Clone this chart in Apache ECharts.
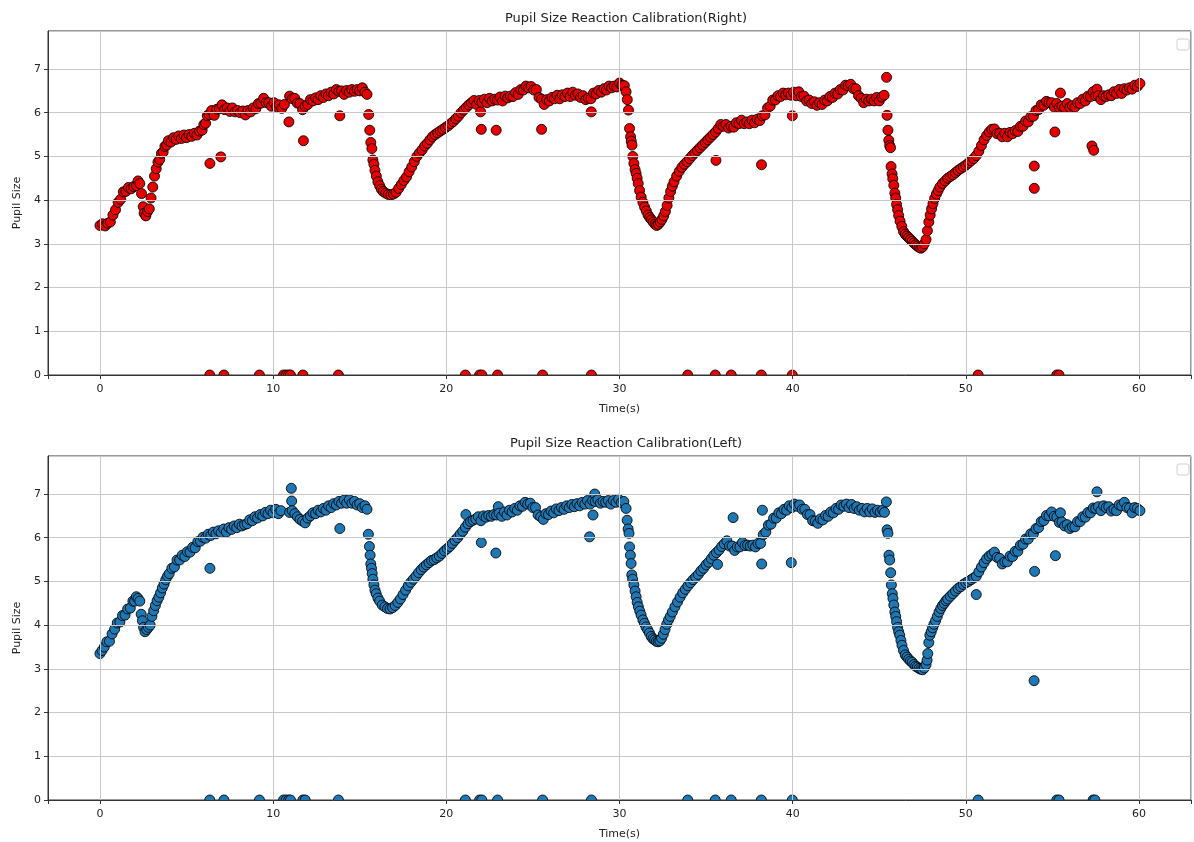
<!DOCTYPE html>
<html>
<head>
<meta charset="utf-8">
<title>Pupil Size Reaction Calibration</title>
<script src="https://cdn.jsdelivr.net/npm/echarts@6/dist/echarts.min.js"></script>
<style>
  html, body { margin: 0; padding: 0; background: #fff; }
  #chart { width: 1194px; height: 842px; }
</style>
</head>
<body>
<div id="chart"></div>
<script>
// ---- Right eye: [time (s), pupil size] ----
const rightCurve = [
  [0.0,3.42],[0.15,3.46],[0.3,3.41],[0.45,3.47],[0.6,3.5],[0.75,3.66],[0.9,3.78],[1.05,3.95],[1.2,4.02],[1.35,4.19],
  [1.5,4.2],[1.65,4.29],[1.8,4.26],[1.95,4.31],[2.1,4.33],[2.2,4.44],[2.3,4.38],[2.4,4.15],[2.5,3.85],[2.55,3.7],
  [2.65,3.64],[2.75,3.74],[2.85,3.8],[2.95,4.05],[3.05,4.3],[3.15,4.55],[3.25,4.72],[3.35,4.87],[3.45,4.93],[3.55,5.07],
  [3.65,5.1],[3.75,5.23],[3.85,5.26],[3.95,5.36],[4.1,5.33],[4.25,5.43],[4.4,5.39],[4.55,5.47],[4.7,5.41],[4.85,5.49],
  [5.0,5.43],[5.15,5.5],[5.3,5.46],[5.45,5.53],[5.6,5.49],[5.75,5.58],[5.9,5.6],[6.0,5.73],[6.1,5.76],[6.2,5.93],
  [6.3,5.96],[6.45,6.05],[6.6,5.94],[6.75,6.08],[6.9,6.09],[7.05,6.18],[7.2,6.07],[7.35,6.11],[7.5,6.03],[7.65,6.11],
  [7.8,6.02],[7.95,6.05],[8.1,6.0],[8.25,6.04],[8.4,5.95],[8.55,6.05],[8.7,6.02],[8.85,6.11],[9.0,6.09],[9.15,6.21],
  [9.3,6.22],[9.45,6.33],[9.6,6.23],[9.75,6.23],[9.9,6.15],[10.05,6.23],[10.2,6.14],[10.35,6.18],[10.5,6.1],[10.65,6.19],
  [10.95,6.38],[11.1,6.32],[11.25,6.33],[11.4,6.22],[11.55,6.21],[11.7,6.07],[11.85,6.15],[12.0,6.19],[12.15,6.3],[12.3,6.27],
  [12.45,6.34],[12.6,6.3],[12.75,6.39],[12.9,6.35],[13.05,6.43],[13.2,6.39],[13.35,6.47],[13.5,6.43],[13.65,6.53],[13.8,6.49],
  [13.95,6.5],[14.1,6.42],[14.25,6.51],[14.4,6.47],[14.55,6.53],[14.7,6.49],[14.85,6.53],[15.0,6.5],[15.15,6.57],[15.3,6.47],
  [15.42,6.42],[15.52,5.96],[15.58,5.6],[15.64,5.32],[15.7,5.18],[15.76,4.92],[15.82,4.82],[15.88,4.68],[15.96,4.55],[16.05,4.42],
  [16.15,4.33],[16.25,4.25],[16.35,4.2],[16.5,4.16],[16.65,4.13],[16.8,4.12],[16.95,4.14],[17.1,4.18],[17.25,4.27],[17.4,4.36],
  [17.55,4.45],[17.7,4.53],[17.85,4.65],[18.0,4.76],[18.15,4.88],[18.3,5.0],[18.45,5.08],[18.6,5.15],[18.75,5.24],[18.9,5.3],
  [19.05,5.38],[19.2,5.45],[19.35,5.5],[19.5,5.54],[19.65,5.58],[19.8,5.62],[19.95,5.66],[20.1,5.7],[20.25,5.75],[20.4,5.8],
  [20.55,5.86],[20.7,5.92],[20.85,6.0],[21.0,6.06],[21.15,6.12],[21.3,6.18],[21.45,6.23],[21.6,6.28],[21.75,6.19],[21.9,6.28],
  [22.05,6.24],[22.2,6.31],[22.35,6.23],[22.5,6.33],[22.65,6.27],[22.8,6.31],[22.95,6.29],[23.1,6.36],[23.25,6.27],[23.4,6.38],
  [23.55,6.34],[23.7,6.38],[23.85,6.37],[24.0,6.46],[24.15,6.42],[24.3,6.53],[24.45,6.52],[24.6,6.61],[24.75,6.57],[24.9,6.6],
  [25.05,6.52],[25.2,6.53],[25.35,6.35],[25.5,6.31],[25.65,6.19],[25.8,6.3],[25.95,6.27],[26.1,6.35],[26.25,6.32],[26.4,6.4],
  [26.55,6.32],[26.7,6.41],[26.85,6.37],[27.0,6.45],[27.15,6.37],[27.3,6.47],[27.45,6.4],[27.6,6.43],[27.75,6.35],[27.9,6.39],
  [28.05,6.3],[28.2,6.33],[28.35,6.32],[28.5,6.45],[28.65,6.43],[28.8,6.51],[28.95,6.47],[29.1,6.55],[29.25,6.52],[29.4,6.61],
  [29.55,6.57],[29.7,6.61],[29.85,6.59],[30.0,6.68],[30.15,6.63],[30.28,6.62],[30.38,6.48],[30.45,6.3],[30.52,6.06],[30.58,5.64],
  [30.64,5.45],[30.68,5.35],[30.72,5.26],[30.77,5.0],[30.83,4.84],[30.9,4.7],[30.96,4.61],[31.02,4.5],[31.08,4.38],[31.16,4.22],
  [31.25,4.07],[31.35,3.95],[31.45,3.84],[31.55,3.75],[31.65,3.66],[31.75,3.6],[31.85,3.55],[31.95,3.5],[32.05,3.45],[32.15,3.42],
  [32.25,3.45],[32.35,3.5],[32.45,3.56],[32.55,3.64],[32.65,3.74],[32.75,3.88],[32.85,4.05],[32.95,4.2],[33.05,4.32],[33.15,4.42],
  [33.3,4.55],[33.45,4.66],[33.6,4.75],[33.75,4.82],[33.9,4.88],[34.05,4.95],[34.2,5.02],[34.35,5.08],[34.5,5.14],[34.65,5.2],
  [34.8,5.26],[34.95,5.32],[35.1,5.38],[35.25,5.44],[35.4,5.5],[35.55,5.56],[35.7,5.64],[35.85,5.73],[36.0,5.69],[36.15,5.73],
  [36.3,5.65],[36.45,5.69],[36.6,5.67],[36.75,5.77],[36.9,5.75],[37.05,5.83],[37.2,5.75],[37.35,5.79],[37.5,5.75],[37.65,5.83],
  [37.8,5.77],[37.95,5.85],[38.1,5.82],[38.25,5.93],[38.4,5.95],[38.55,6.11],[38.7,6.15],[38.85,6.29],[39.0,6.29],[39.15,6.39],
  [39.3,6.37],[39.45,6.45],[39.6,6.41],[39.75,6.45],[39.9,6.4],[40.05,6.47],[40.2,6.39],[40.35,6.48],[40.5,6.37],[40.65,6.38],
  [40.8,6.27],[40.95,6.29],[41.1,6.21],[41.25,6.25],[41.4,6.17],[41.55,6.23],[41.7,6.19],[41.85,6.29],[42.0,6.27],[42.15,6.37],
  [42.3,6.35],[42.45,6.45],[42.6,6.43],[42.75,6.53],[42.9,6.52],[43.05,6.63],[43.2,6.62],[43.35,6.65],[43.5,6.55],[43.65,6.55],
  [43.8,6.39],[43.95,6.33],[44.1,6.23],[44.25,6.31],[44.4,6.27],[44.55,6.31],[44.7,6.27],[44.85,6.35],[45.0,6.27],[45.15,6.36],
  [45.28,6.4],[45.45,5.94],[45.5,5.6],[45.55,5.37],[45.6,5.25],[45.65,5.2],[45.68,4.77],[45.74,4.6],[45.78,4.49],[45.84,4.34],
  [45.9,4.16],[45.95,4.05],[46.0,3.9],[46.06,3.78],[46.12,3.65],[46.2,3.52],[46.3,3.4],[46.4,3.28],[46.5,3.22],[46.6,3.18],
  [46.7,3.14],[46.8,3.1],[46.9,3.06],[47.0,3.02],[47.1,2.98],[47.2,2.95],[47.3,2.92],[47.4,2.9],[47.5,2.93],[47.6,3.0],
  [47.7,3.1],[47.78,3.3],[47.86,3.5],[47.94,3.66],[48.02,3.8],[48.1,3.92],[48.2,4.04],[48.3,4.14],[48.4,4.22],[48.5,4.3],
  [48.65,4.38],[48.8,4.44],[48.95,4.5],[49.1,4.54],[49.25,4.58],[49.4,4.63],[49.55,4.68],[49.7,4.72],[49.85,4.76],[50.0,4.8],
  [50.15,4.85],[50.3,4.9],[50.45,4.95],[50.6,5.02],[50.75,5.12],[50.9,5.25],[51.05,5.38],[51.2,5.48],[51.35,5.56],[51.5,5.62],
  [51.65,5.63],[51.8,5.52],[51.95,5.53],[52.1,5.45],[52.25,5.53],[52.4,5.45],[52.55,5.55],[52.7,5.52],[52.85,5.59],[53.0,5.57],
  [53.15,5.69],[53.3,5.69],[53.45,5.81],[53.6,5.79],[53.75,5.91],[53.9,5.92],[54.05,6.05],[54.2,6.07],[54.35,6.18],[54.5,6.17],
  [54.65,6.26],[54.8,6.23],[54.95,6.23],[55.1,6.13],[55.25,6.21],[55.4,6.12],[55.55,6.15],[55.7,6.12],[55.85,6.21],[56.0,6.12],
  [56.15,6.16],[56.3,6.13],[56.45,6.23],[56.6,6.21],[56.75,6.31],[56.9,6.27],[57.05,6.38],[57.2,6.37],[57.35,6.48],[57.5,6.39],
  [57.65,6.39],[57.8,6.3],[57.95,6.39],[58.1,6.37],[58.25,6.41],[58.4,6.39],[58.55,6.48],[58.7,6.44],[58.85,6.53],[59.0,6.44],
  [59.15,6.55],[59.3,6.52],[59.45,6.57],[59.6,6.54],[59.75,6.63],[59.9,6.6],[60.05,6.67]
];
const rightOutliers = [
  [6.35,4.84],[6.98,4.99],[10.91,5.79],[11.75,5.36],[13.85,5.93],[21.98,6.02],[22.02,5.62],[22.88,5.6],
  [25.5,5.62],[28.37,6.02],[35.57,4.91],[38.2,4.81],[39.98,5.93],[45.42,6.81],[53.95,4.78],[53.95,4.27],
  [55.14,5.56],[55.46,6.45],[57.28,5.24],[57.38,5.14],[57.57,6.54]
];
const rightDropouts = [
  [6.34,0],[7.16,0],[9.21,0],[10.6,0],[10.75,0],[10.9,0],[11.0,0],[11.72,0],[13.77,0],[21.1,0],[21.92,0],[22.05,0],
  [22.96,0],[25.56,0],[28.38,0],[33.94,0],[35.53,0],[36.45,0],[38.19,0],[39.98,0],[50.71,0],[55.25,0],[55.38,0]
];

// ---- Left eye: [time (s), pupil size] ----
const leftCurve = [
  [0.0,3.35],[0.12,3.42],[0.25,3.5],[0.4,3.62],[0.55,3.63],[0.7,3.8],[0.85,3.91],[1.0,4.05],[1.15,4.07],[1.3,4.22],
  [1.45,4.23],[1.6,4.37],[1.75,4.39],[1.9,4.55],[2.0,4.55],[2.1,4.65],[2.2,4.61],[2.3,4.55],[2.38,4.25],[2.45,4.1],
  [2.52,3.95],[2.6,3.85],[2.7,3.9],[2.8,3.95],[2.9,4.0],[3.0,4.2],[3.1,4.33],[3.2,4.45],[3.3,4.56],[3.4,4.64],
  [3.5,4.74],[3.6,4.85],[3.7,4.94],[3.8,5.04],[3.9,5.12],[4.0,5.18],[4.15,5.3],[4.3,5.33],[4.45,5.49],[4.6,5.49],
  [4.75,5.6],[4.9,5.57],[5.05,5.68],[5.2,5.67],[5.35,5.78],[5.5,5.77],[5.65,5.91],[5.8,5.92],[5.95,6.01],[6.1,5.99],
  [6.25,6.08],[6.4,6.05],[6.55,6.13],[6.7,6.09],[6.85,6.16],[7.0,6.12],[7.15,6.2],[7.3,6.13],[7.45,6.23],[7.6,6.19],
  [7.75,6.27],[7.9,6.23],[8.05,6.31],[8.2,6.27],[8.35,6.3],[8.5,6.32],[8.65,6.41],[8.8,6.39],[8.95,6.48],[9.1,6.45],
  [9.25,6.53],[9.4,6.5],[9.55,6.58],[9.7,6.55],[9.85,6.63],[10.0,6.57],[10.15,6.65],[10.3,6.55],[10.45,6.62],
  [10.95,6.58],[11.1,6.62],[11.25,6.55],[11.4,6.48],[11.55,6.42],[11.7,6.38],[11.85,6.34],[12.0,6.45],[12.15,6.5],[12.3,6.57],
  [12.45,6.55],[12.6,6.63],[12.75,6.59],[12.9,6.67],[13.05,6.63],[13.2,6.73],[13.35,6.69],[13.5,6.78],[13.65,6.75],[13.8,6.83],
  [13.95,6.79],[14.1,6.86],[14.25,6.79],[14.4,6.87],[14.55,6.79],[14.7,6.83],[14.85,6.75],[15.0,6.78],[15.15,6.69],[15.3,6.73],
  [15.42,6.65],[15.5,6.08],[15.56,5.8],[15.6,5.6],[15.64,5.4],[15.68,5.3],[15.72,5.18],[15.76,5.05],[15.82,4.92],[15.88,4.8],
  [15.95,4.72],[16.05,4.62],[16.15,4.55],[16.3,4.46],[16.45,4.42],[16.6,4.38],[16.75,4.37],[16.9,4.4],[17.05,4.45],[17.2,4.52],
  [17.35,4.6],[17.5,4.7],[17.65,4.8],[17.8,4.9],[17.95,4.98],[18.1,5.05],[18.25,5.12],[18.4,5.2],[18.55,5.27],[18.7,5.33],
  [18.85,5.38],[19.0,5.43],[19.15,5.48],[19.3,5.5],[19.45,5.54],[19.6,5.58],[19.75,5.64],[19.9,5.7],[20.05,5.75],[20.2,5.8],
  [20.35,5.87],[20.5,5.94],[20.65,6.0],[20.8,6.08],[20.95,6.15],[21.1,6.24],[21.25,6.32],[21.4,6.37],[21.55,6.4],[21.7,6.43],
  [21.85,6.48],[22.0,6.39],[22.15,6.5],[22.3,6.47],[22.45,6.51],[22.6,6.49],[22.75,6.53],[22.9,6.52],[23.05,6.56],[23.2,6.49],
  [23.35,6.59],[23.5,6.52],[23.65,6.63],[23.8,6.59],[23.95,6.67],[24.1,6.63],[24.25,6.73],[24.4,6.72],[24.55,6.81],[24.7,6.77],
  [24.85,6.79],[25.0,6.69],[25.15,6.69],[25.3,6.52],[25.45,6.48],[25.6,6.42],[25.75,6.55],[25.9,6.53],[26.05,6.61],[26.2,6.57],
  [26.35,6.66],[26.5,6.62],[26.65,6.69],[26.8,6.65],[26.95,6.73],[27.1,6.69],[27.25,6.76],[27.4,6.71],[27.55,6.78],[27.7,6.73],
  [27.85,6.81],[28.0,6.77],[28.15,6.85],[28.3,6.77],[28.45,6.85],[28.6,6.83],[28.75,6.87],[28.9,6.79],[29.05,6.83],[29.2,6.81],
  [29.35,6.85],[29.5,6.77],[29.65,6.85],[29.8,6.81],[29.95,6.88],[30.1,6.8],[30.25,6.83],[30.38,6.67],[30.44,6.4],[30.5,6.2],
  [30.55,6.1],[30.58,5.79],[30.63,5.6],[30.67,5.41],[30.71,5.15],[30.76,5.05],[30.83,4.92],[30.9,4.78],[30.96,4.65],[31.02,4.52],
  [31.09,4.42],[31.17,4.32],[31.25,4.23],[31.35,4.12],[31.44,4.04],[31.53,3.96],[31.63,3.89],[31.73,3.82],[31.83,3.74],[31.93,3.69],
  [32.03,3.66],[32.13,3.63],[32.23,3.62],[32.33,3.64],[32.43,3.7],[32.53,3.79],[32.63,3.9],[32.73,4.02],[32.83,4.12],[32.93,4.2],
  [33.05,4.3],[33.2,4.42],[33.35,4.53],[33.5,4.64],[33.65,4.74],[33.8,4.82],[33.95,4.9],[34.1,4.97],[34.25,5.04],[34.4,5.1],
  [34.55,5.16],[34.7,5.24],[34.85,5.3],[35.0,5.38],[35.15,5.44],[35.3,5.52],[35.45,5.6],[35.6,5.66],[35.75,5.72],[35.9,5.8],
  [36.05,5.86],[36.2,5.93],[36.35,5.81],[36.5,5.81],[36.65,5.71],[36.8,5.79],[36.95,5.79],[37.1,5.89],[37.25,5.82],[37.4,5.83],
  [37.55,5.81],[37.7,5.83],[37.85,5.79],[38.0,5.87],[38.15,5.87],[38.3,6.07],[38.45,6.13],[38.6,6.29],[38.75,6.31],[38.9,6.45],
  [39.05,6.45],[39.2,6.57],[39.35,6.55],[39.5,6.65],[39.65,6.63],[39.8,6.73],[39.95,6.69],[40.1,6.77],[40.25,6.72],[40.4,6.75],
  [40.55,6.65],[40.7,6.65],[40.85,6.53],[41.0,6.53],[41.15,6.39],[41.3,6.38],[41.45,6.33],[41.6,6.43],[41.75,6.41],[41.9,6.51],
  [42.05,6.49],[42.2,6.59],[42.35,6.57],[42.5,6.67],[42.65,6.65],[42.8,6.75],[42.95,6.72],[43.1,6.77],[43.25,6.69],[43.4,6.76],
  [43.55,6.67],[43.7,6.71],[43.85,6.63],[44.0,6.67],[44.15,6.59],[44.3,6.67],[44.45,6.59],[44.6,6.66],[44.75,6.58],[44.9,6.63],
  [45.05,6.59],[45.2,6.63],[45.3,6.58],[45.45,6.18],[45.5,6.1],[45.56,5.6],[45.6,5.49],[45.66,5.2],[45.7,4.92],[45.75,4.72],
  [45.79,4.61],[45.84,4.46],[45.9,4.3],[45.95,4.2],[46.0,4.08],[46.06,3.95],[46.12,3.85],[46.18,3.77],[46.25,3.65],[46.31,3.54],
  [46.4,3.42],[46.5,3.32],[46.6,3.27],[46.7,3.22],[46.8,3.18],[46.9,3.15],[47.0,3.1],[47.1,3.06],[47.2,3.04],[47.3,3.01],
  [47.4,2.99],[47.5,2.98],[47.6,3.02],[47.7,3.1],[47.76,3.2],[47.8,3.35],[47.86,3.6],[47.92,3.77],[48.0,3.85],[48.08,3.94],
  [48.16,4.02],[48.25,4.1],[48.35,4.2],[48.45,4.3],[48.55,4.38],[48.65,4.45],[48.75,4.5],[48.85,4.56],[48.95,4.6],[49.1,4.66],
  [49.25,4.72],[49.4,4.78],[49.55,4.84],[49.7,4.88],[49.85,4.93],[50.0,4.97],[50.15,5.0],[50.3,5.04],[50.45,5.08],[50.6,5.12],
  [50.75,5.22],[50.9,5.33],[51.05,5.43],[51.2,5.52],[51.35,5.58],[51.5,5.62],[51.65,5.67],[51.8,5.55],[51.95,5.53],[52.1,5.4],
  [52.25,5.45],[52.4,5.45],[52.55,5.58],[52.7,5.57],[52.85,5.69],[53.0,5.69],[53.15,5.83],[53.3,5.85],[53.45,5.97],[53.6,5.97],
  [53.75,6.09],[53.9,6.09],[54.05,6.21],[54.2,6.23],[54.35,6.37],[54.5,6.39],[54.65,6.51],[54.8,6.5],[54.95,6.59],[55.1,6.49],
  [55.25,6.47],[55.4,6.35],[55.55,6.36],[55.7,6.27],[55.85,6.3],[56.0,6.21],[56.15,6.25],[56.3,6.25],[56.45,6.37],[56.6,6.37],
  [56.75,6.48],[56.9,6.47],[57.05,6.58],[57.2,6.57],[57.35,6.68],[57.5,6.67],[57.65,6.71],[57.8,6.62],[57.95,6.73],[58.1,6.69],
  [58.25,6.71],[58.4,6.61],[58.55,6.65],[58.7,6.62],[58.85,6.75],[59.0,6.73],[59.15,6.81],[59.3,6.69],[59.45,6.68],[59.6,6.57],
  [59.75,6.69],[59.9,6.67],[60.05,6.62]
];
const leftOutliers = [
  [6.35,5.3],[11.05,7.13],[11.07,6.84],[13.85,6.21],[21.13,6.53],[22.02,5.89],[22.86,5.65],[23.0,6.71],
  [28.27,6.02],[28.47,6.52],[28.57,7.0],[35.66,5.39],[36.56,6.46],[38.21,5.4],[38.25,6.63],[39.92,5.43],
  [45.41,6.82],[50.6,4.7],[53.94,2.73],[53.97,5.23],[55.17,5.59],[55.46,6.57],[57.57,7.05]
];
const leftDropouts = [
  [6.34,0],[7.16,0],[9.21,0],[10.6,0],[10.75,0],[10.9,0],[11.0,0],[11.72,0],[11.85,0],[13.77,0],[21.1,0],[21.92,0],
  [22.05,0],[22.96,0],[25.56,0],[28.38,0],[33.94,0],[35.53,0],[36.45,0],[38.19,0],[39.98,0],[50.71,0],[55.25,0],
  [55.38,0],[57.35,0],[57.45,0]
];

const titles = ['Pupil Size Reaction Calibration(Right)', 'Pupil Size Reaction Calibration(Left)'];
const colors = ['#e60000', '#1f77b4'];

// all samples of one eye in time order
function samples(curve, outliers, dropouts) {
  return curve.concat(outliers, dropouts).sort((a, b) => a[0] - b[0]);
}
const eyeData = [
  samples(rightCurve, rightOutliers, rightDropouts),
  samples(leftCurve, leftOutliers, leftDropouts)
];

const FONT = 'DejaVu Sans';
const panelTop = [31, 456];
const panelHeight = 344;
const plotLeft = 48;

const option = {
  animation: false,
  backgroundColor: '#fff',
  textStyle: { fontFamily: FONT },
  title: titles.map((t, i) => ({
    text: t,
    left: 621,
    top: panelTop[i] - 24,
    textAlign: 'center',
    textStyle: { fontFamily: FONT, fontSize: 13, fontWeight: 'normal', color: '#222' }
  })),
  grid: panelTop.map(top => ({
    left: plotLeft, right: -2, top: top, height: panelHeight,
    show: true, borderColor: '#333', borderWidth: 1, backgroundColor: 'transparent'
  })),
  xAxis: [0, 1].map(i => ({
    type: 'value', gridIndex: i, min: -3, max: 63, splitNumber: 6, z: 10,
    name: 'Time(s)', nameLocation: 'middle', nameGap: 29,
    nameTextStyle: { fontFamily: FONT, fontSize: 11, color: '#222' },
    axisLine: { show: true, onZero: false, lineStyle: { color: '#333', width: 1 } },
    axisTick: { show: true, inside: false, length: 4, lineStyle: { color: '#333' } },
    axisLabel: {
      fontFamily: FONT, fontSize: 11, color: '#222', margin: 9,
      formatter: v => (Math.abs(v % 10) < 1e-9 ? String(v) : '')
    },
    splitLine: { show: true, lineStyle: { color: '#c8c8c8', width: 1 } }
  })),
  yAxis: [0, 1].map(i => ({
    type: 'value', gridIndex: i, min: 0, max: 7.87, interval: 1, z: 10,
    name: 'Pupil Size', nameLocation: 'middle', nameGap: 24,
    nameTextStyle: { fontFamily: FONT, fontSize: 11, color: '#222' },
    axisLine: { show: true, onZero: false, lineStyle: { color: '#333', width: 1 } },
    axisTick: { show: true, inside: false, length: 4, lineStyle: { color: '#333' } },
    axisLabel: {
      fontFamily: FONT, fontSize: 11, color: '#222', margin: 7, showMaxLabel: false,
      formatter: v => (Math.abs(v - Math.round(v)) < 1e-9 ? String(v) : '')
    },
    splitLine: { show: true, lineStyle: { color: '#c8c8c8', width: 1 } }
  })),
  graphic: [
    // strip under each plot so markers sitting on 0 show only their upper half
    { type: 'rect', z: 5, silent: true,
      shape: { x: plotLeft - 2, y: panelTop[0] + panelHeight + 0.5, width: 1160, height: 6 },
      style: { fill: '#fff' } },
    { type: 'rect', z: 5, silent: true,
      shape: { x: plotLeft - 2, y: panelTop[1] + panelHeight + 0.5, width: 1160, height: 6 },
      style: { fill: '#fff' } },
    // empty legend frames
    { type: 'rect', z: 6, silent: true,
      shape: { x: 1177, y: panelTop[0] + 8, width: 12, height: 11, r: 2 },
      style: { fill: '#fff', stroke: '#d0d0d0', lineWidth: 1 } },
    { type: 'rect', z: 6, silent: true,
      shape: { x: 1177, y: panelTop[1] + 8, width: 12, height: 11, r: 2 },
      style: { fill: '#fff', stroke: '#d0d0d0', lineWidth: 1 } }
  ],
  series: eyeData.map((d, i) => ({
    type: 'scatter',
    xAxisIndex: i, yAxisIndex: i,
    data: d,
    symbol: 'circle',
    symbolSize: 10,
    z: 2,
    clip: false,
    itemStyle: { color: colors[i], borderColor: 'rgba(0,0,0,0.85)', borderWidth: 1, opacity: 1 },
    emphasis: { disabled: true }
  }))
};

const chart = echarts.init(document.getElementById('chart'), null, { renderer: 'canvas' });
chart.setOption(option);
</script>
</body>
</html>
